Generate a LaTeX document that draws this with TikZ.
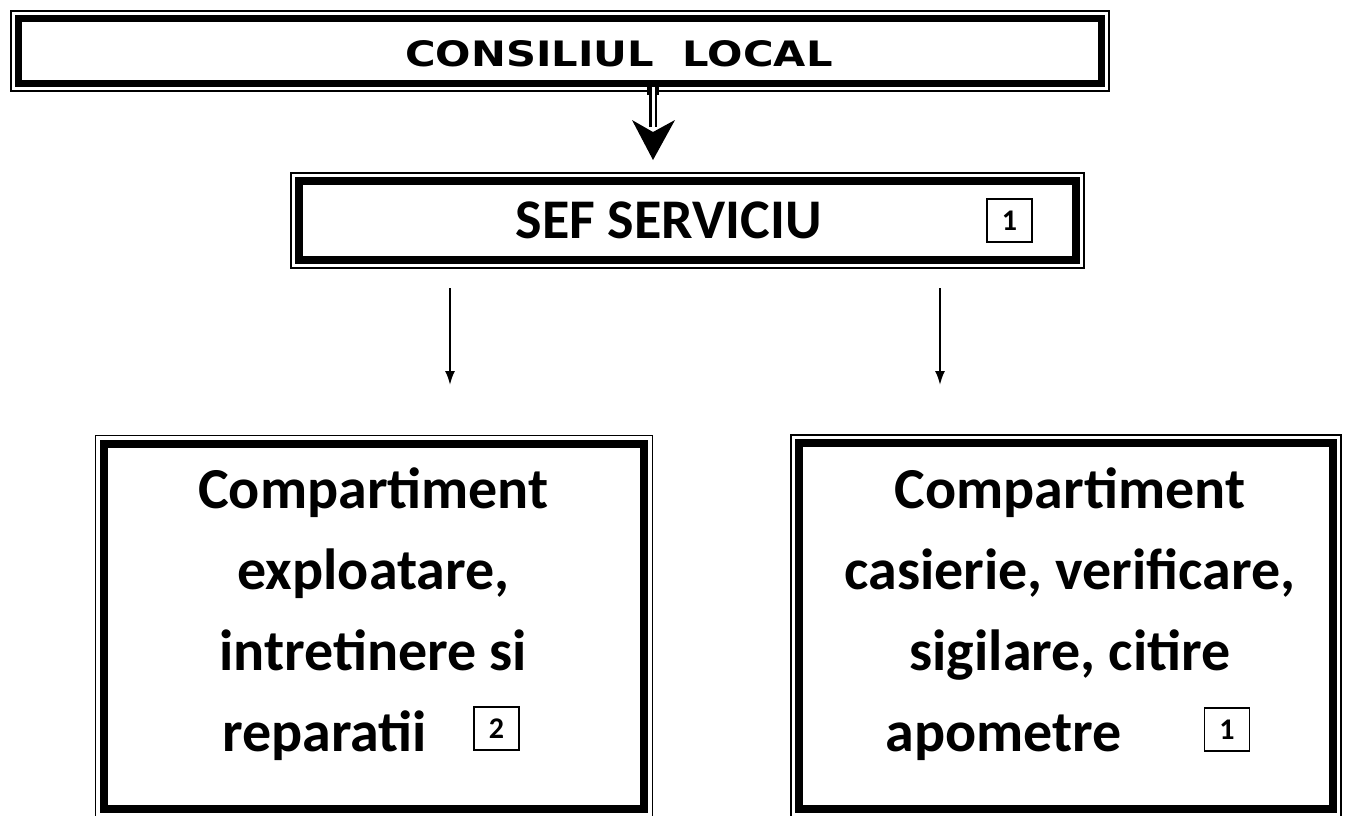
\documentclass[tikz,border=0pt]{standalone}
\usepackage{fontspec}
\setmainfont{Carlito}
\newfontfamily\widefont[FakeStretch=1.19]{DejaVu Sans}
\usetikzlibrary{arrows.meta, calc}

\tikzset{
	frame/.style={draw, line width=#1, inner sep=0pt},
	tagbox/.style={draw, line width=1.2pt, inner sep=0pt, minimum width=45pt, minimum height=43pt, font=\fontsize{30}{30}\selectfont\bfseries},
	boxtext/.style={align=center, inner sep=0pt, font=\fontsize{58}{81}\selectfont\bfseries},
	thinarrow/.style={line width=2pt, -{Latex[length=14pt, width=10pt]}}
}

%thin outer line round a framed node (offset in picture units)
\newcommand{\thinframe}[3]{\draw[line width=#3] ([shift={(-#2,-#2)}]#1.north west) rectangle ([shift={(#2,#2)}]#1.south east);}

\begin{document}
\begin{tikzpicture}[x=1pt, y=-1pt]
		\useasboundingbox (0,0) rectangle (1346,815);
		
		%frames
		\node[frame=7pt, minimum width=1083pt, minimum height=65pt] (cl) at (560,51) {};
		\node[frame=8pt, minimum width=777pt, minimum height=79pt] (sef) at (687.5,220.5) {};
		\node[frame=8pt, minimum width=540pt, minimum height=365pt] (expl) at (374,626.5) {};
		\node[frame=8pt, minimum width=534pt, minimum height=366pt] (cas) at (1066,626) {};
		
		\thinframe{cl}{4}{1.5pt}
		\thinframe{sef}{4}{2pt}
		\thinframe{expl}{4.5}{1.8pt}
		\thinframe{cas}{4}{1.8pt}
		
		%texts
		\node[anchor=base, inner sep=0pt, font=\widefont\bfseries\fontsize{35}{35}\selectfont] (clText) at (619,66) {CONSILIUL\ \ LOCAL};
		\node[anchor=base, inner sep=0pt, font=\fontsize{56}{56}\selectfont\bfseries] (sefText) at (668.5,238) {SEF SERVICIU};
		\node[boxtext, anchor=base] (explText) at (373.5,751) {Compartiment\\exploatare,\\intretinere si\\reparatii\hspace*{98pt}};
		\node[boxtext, anchor=base] (casText) at (1070,751) {Compartiment\\casierie, verificare,\\sigilare, citire\\apometre\hspace*{133pt}};
		
		%number of posts
		\node[tagbox] (tagSef) at (1009.5,220.5) {1};
		\node[tagbox] (tagExpl) at (496.5,728.5) {2};
		\node[tagbox] (tagCas) at (1227,729.5) {1};
		
		%arrow from the council
		\coordinate (tip) at (653,160);
		\fill (cl.south -| tip) ++(-6,0) rectangle ++(12,8);
		\draw[line width=2.5pt, double distance=3pt] (cl.south -| tip) -- ++(0,40);
		\fill (tip) -- ++(-21,-40) -- ++(21,12) -- ++(22,-12) -- cycle;
		
		%arrows to the compartments
		\coordinate (s1) at (450,288);
		\coordinate (e1) at (450,385);
		\coordinate (s2) at (940,288);
		\coordinate (e2) at (940,385);
		\draw[thinarrow] (s1) -- (e1);
		\draw[thinarrow] (s2) -- (e2);
	\end{tikzpicture}
\end{document}
